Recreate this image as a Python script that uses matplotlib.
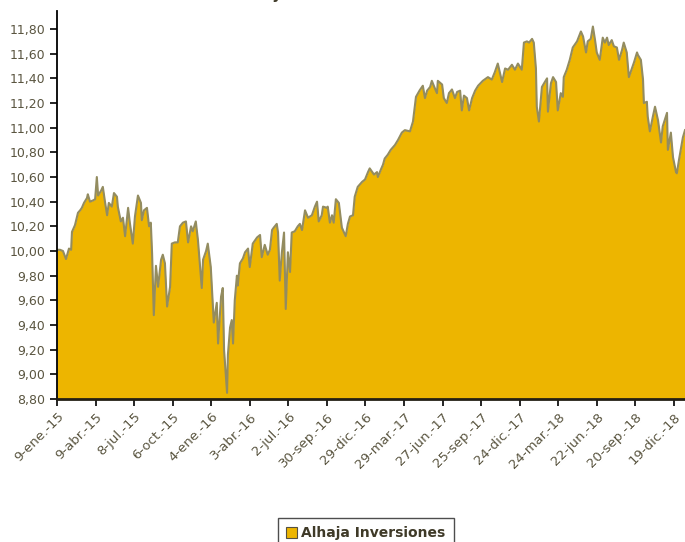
import numpy as np
import pandas as pd
import matplotlib
matplotlib.use('Agg')
import matplotlib.pyplot as plt
from matplotlib.patches import Patch

# valor liquidativo (dias desde el 9-ene-15)
inicio = pd.Timestamp('2015-01-09')
dias = [0, 7, 14, 21, 28, 33, 35, 42, 49, 54, 58, 63, 70, 72, 77, 84, 89, 93, 96, 103,
        107, 112, 117, 121, 128, 133, 140, 142, 149, 154, 159, 166, 170, 177, 182, 189, 196, 198, 203, 210,
        215, 219, 222, 226, 231, 236, 243, 247, 252, 257, 264, 268, 275, 282, 287, 294, 301, 306, 313, 317,
        324, 329, 338, 341, 348, 352, 359, 364, 366, 373, 376, 383, 387, 390, 397, 399, 404, 408, 411, 415,
        420, 422, 427, 434, 439, 446, 450, 457, 467, 474, 478, 485, 492, 497, 502, 506, 513, 516, 520, 525,
        530, 534, 539, 544, 548, 555, 562, 567, 572, 579, 586, 595, 602, 607, 611, 618, 621, 630, 632, 637,
        642, 646, 651, 658, 665, 674, 679, 684, 691, 695, 702, 712, 719, 726, 730, 740, 747, 749, 756, 761,
        765, 772, 779, 789, 796, 805, 812, 824, 831, 838, 847, 854, 859, 864, 871, 875, 882, 887, 889, 899,
        903, 910, 915, 922, 929, 934, 941, 945, 950, 957, 962, 969, 976, 983, 994, 1006, 1015, 1022, 1029, 1039,
        1046, 1053, 1062, 1069, 1076, 1085, 1090, 1097, 1102, 1109, 1113, 1118, 1120, 1125, 1132, 1137, 1144, 1146, 1153, 1158,
        1165, 1169, 1176, 1181, 1183, 1190, 1197, 1204, 1214, 1223, 1228, 1235, 1239, 1246, 1251, 1256, 1260, 1267, 1274, 1279,
        1284, 1288, 1295, 1300, 1307, 1312, 1319, 1323, 1330, 1335, 1342, 1347, 1354, 1356, 1363, 1368, 1370, 1377, 1379, 1384,
        1391, 1396, 1403, 1410, 1414, 1424, 1426, 1433, 1438, 1445, 1447, 1452, 1461, 1466]
valor = [10.01, 10.01, 10.00, 9.935, 10.02, 10.01, 10.155, 10.21, 10.31, 10.33, 10.35, 10.39, 10.43, 10.46, 10.40, 10.41, 10.42, 10.60, 10.45, 10.49,
         10.52, 10.40, 10.29, 10.39, 10.36, 10.47, 10.44, 10.36, 10.24, 10.27, 10.12, 10.35, 10.23, 10.06, 10.28, 10.45, 10.39, 10.25, 10.33, 10.35,
         10.20, 10.23, 9.98, 9.48, 9.88, 9.71, 9.93, 9.97, 9.90, 9.55, 9.71, 10.06, 10.07, 10.07, 10.20, 10.23, 10.24, 10.07, 10.20, 10.16,
         10.24, 10.09, 9.70, 9.93, 10.00, 10.06, 9.87, 9.56, 9.42, 9.58, 9.25, 9.63, 9.70, 9.20, 8.85, 9.16, 9.38, 9.44, 9.25, 9.60,
         9.80, 9.72, 9.90, 9.94, 9.99, 10.02, 9.87, 10.06, 10.11, 10.13, 9.95, 10.05, 9.97, 10.01, 10.17, 10.19, 10.22, 10.15, 9.76, 9.99,
         10.15, 9.53, 9.99, 9.83, 10.15, 10.16, 10.20, 10.22, 10.17, 10.33, 10.27, 10.29, 10.36, 10.40, 10.24, 10.29, 10.36, 10.35, 10.36, 10.23,
         10.29, 10.23, 10.42, 10.39, 10.19, 10.12, 10.22, 10.28, 10.29, 10.44, 10.52, 10.56, 10.58, 10.64, 10.67, 10.62, 10.64, 10.60, 10.66, 10.70,
         10.75, 10.78, 10.82, 10.86, 10.90, 10.96, 10.98, 10.97, 11.05, 11.25, 11.305, 11.34, 11.24, 11.30, 11.33, 11.38, 11.32, 11.28, 11.38, 11.35,
         11.24, 11.20, 11.28, 11.31, 11.24, 11.29, 11.30, 11.14, 11.26, 11.24, 11.14, 11.24, 11.30, 11.34, 11.38, 11.41, 11.39, 11.45, 11.52, 11.37,
         11.48, 11.47, 11.51, 11.47, 11.52, 11.47, 11.69, 11.70, 11.69, 11.72, 11.69, 11.48, 11.17, 11.05, 11.33, 11.36, 11.40, 11.13, 11.36, 11.41,
         11.37, 11.14, 11.28, 11.25, 11.41, 11.47, 11.55, 11.65, 11.70, 11.78, 11.74, 11.61, 11.70, 11.72, 11.82, 11.71, 11.61, 11.55, 11.73, 11.69,
         11.73, 11.67, 11.71, 11.66, 11.65, 11.55, 11.63, 11.69, 11.61, 11.41, 11.48, 11.53, 11.61, 11.59, 11.55, 11.39, 11.20, 11.21, 11.09, 10.97,
         11.09, 11.17, 11.06, 10.88, 11.01, 11.12, 10.82, 10.96, 10.76, 10.64, 10.63, 10.74, 10.92, 10.98]

etiquetas_x = ['9-ene.-15', '9-abr.-15', '8-jul.-15', '6-oct.-15', '4-ene.-16', '3-abr.-16',
               '2-jul.-16', '30-sep.-16', '29-dic.-16', '29-mar.-17', '27-jun.-17', '25-sep.-17',
               '24-dic.-17', '24-mar.-18', '22-jun.-18', '20-sep.-18', '19-dic.-18']
ticks_y = [8.80, 9.00, 9.20, 9.40, 9.60, 9.80, 10.00, 10.20, 10.40, 10.60, 10.80,
           11.00, 11.20, 11.40, 11.60, 11.80]

fechas = inicio + pd.to_timedelta(dias, unit='D')
ticks_x = [inicio + pd.Timedelta(days=90 * i) for i in range(len(etiquetas_x))]

amarillo = '#EDB500'
linea = '#938C60'
texto = '#5A5540'

fig = plt.figure(figsize=(6.85, 5.42), dpi=100)
ax = fig.add_axes([0.0832, 0.2638, 1 - 0.0832, 0.9797 - 0.2638])

ax.fill_between(fechas, valor, 8.80, color=amarillo, lw=0)
ax.plot(fechas, valor, color=linea, lw=1.5)

ax.set_xlim(fechas[0], fechas[-1])
ax.set_ylim(8.80, 11.946)
ax.set_yticks(ticks_y)
ax.set_yticklabels([('%.2f' % v).replace('.', ',') for v in ticks_y])
ax.set_xticks(ticks_x)
ax.set_xticklabels(etiquetas_x, rotation=45, ha='right', va='top', rotation_mode='anchor')

for s in ['top', 'right']:
    ax.spines[s].set_visible(False)
ax.spines['left'].set_linewidth(1.3)
ax.spines['bottom'].set_linewidth(2)
ax.spines['bottom'].set_color('#231f14')
ax.tick_params(axis='both', direction='out', length=5, width=1.2, colors='black',
               labelcolor=texto, labelsize=9)
ax.tick_params(axis='x', pad=3, labelsize=9.5)

fig.text(0.50, 1.002, 'Alhaja Inversiones SICAV', ha='center', va='baseline',
         fontsize=11, fontweight='bold', color='#3f3a28')

leg = fig.legend(handles=[Patch(facecolor=amarillo, edgecolor='#555040', lw=0.8)],
                 labels=['Alhaja Inversiones'], loc='lower center',
                 bbox_to_anchor=(0.534, -0.012), frameon=True, fancybox=False,
                 prop={'weight': 'bold', 'size': 10}, handlelength=0.8, handleheight=0.8,
                 handletextpad=0.3, borderpad=0.6, borderaxespad=0)
leg.get_frame().set_edgecolor('#222222')
leg.get_frame().set_linewidth(1)
for t in leg.get_texts():
    t.set_color('#3f3a28')

fig.savefig('out.png', dpi=100)
